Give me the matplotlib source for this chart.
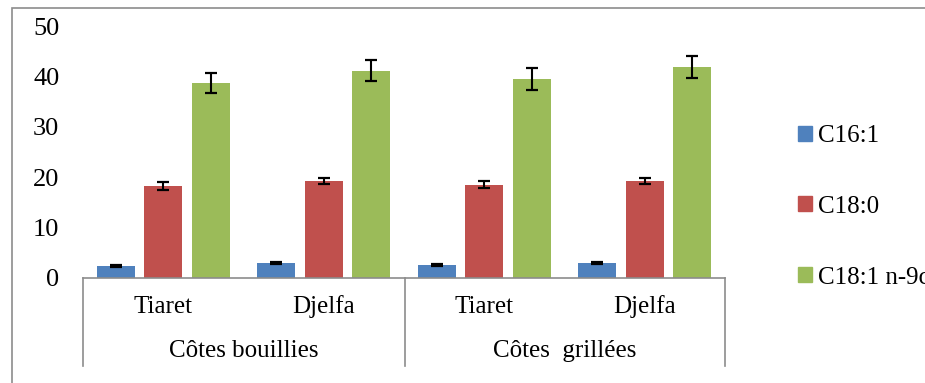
import numpy as np
import matplotlib
matplotlib.use("Agg")
import matplotlib.pyplot as plt
from matplotlib.patches import Rectangle
from matplotlib.lines import Line2D

plt.rcParams['font.family'] = ['serif']
plt.rcParams['font.serif'] = ['Liberation Serif', 'DejaVu Serif']

# donnees
sites = ["Tiaret", "Djelfa", "Tiaret", "Djelfa"]
groups = ["Côtes bouillies", "Côtes  grillées"]
series = ["C16:1", "C18:0", "C18:1 n-9c"]
c16_1 = [2.4, 2.9, 2.5, 3.0]
c18_0 = [18.3, 19.2, 18.5, 19.3]
c18_1 = [38.7, 41.1, 39.5, 41.8]
err_c16_1 = [0.2, 0.2, 0.2, 0.2]
err_c18_0 = [0.8, 0.6, 0.7, 0.6]
err_c18_1 = [2.0, 2.1, 2.1, 2.2]
colors = ["#4F81BD", "#C0504D", "#9BBB59"]

W, H = 925, 383
fig = plt.figure(figsize=(W / 100, H / 100), dpi=100)

# cadre gris autour du graphique
fig.patches.append(Rectangle((12 / W, -0.1), 1.2, (H - 8) / H + 0.1,
                             transform=fig.transFigure, fill=False,
                             edgecolor="#8c8c8c", linewidth=1.2))

ax = fig.add_axes([83 / W, (H - 278) / H, (725 - 83) / W, (278 - 26) / H])

x = np.arange(len(sites))
width = 0.237
step = 0.295
vals = [c16_1, c18_0, c18_1]
errs = [err_c16_1, err_c18_0, err_c18_1]
for i, (v, e, c, name) in enumerate(zip(vals, errs, colors, series)):
    ax.bar(x + (i - 1) * step, v, width, color=c, label=name,
           yerr=e, capsize=4.3, error_kw=dict(ecolor="black", elinewidth=1.5, capthick=1.6))

ax.set_xlim(-0.5, len(sites) - 0.5)
ax.set_ylim(0, 50)
ax.set_yticks([0, 10, 20, 30, 40, 50])
ax.tick_params(axis="y", length=0, labelsize=19, pad=17)
ax.tick_params(axis="x", length=0)
ax.set_xticks([])
for s in ["top", "right", "left"]:
    ax.spines[s].set_visible(False)
ax.spines["bottom"].set_color("#8c8c8c")
ax.spines["bottom"].set_linewidth(1.2)

# axe multi-niveaux
def fy(py):
    return (H - py) / H

for i, s in enumerate(sites):
    xf = (83 + (i + 0.5) * (725 - 83) / 4) / W
    fig.text(xf, fy(307), s, ha="center", va="center", fontsize=18)
for j, g in enumerate(groups):
    xf = (83 + (j + 0.5) * (725 - 83) / 2) / W
    fig.text(xf, fy(351), g, ha="center", va="center", fontsize=18)
for px in [83, 405, 725]:
    fig.lines.append(Line2D([px / W, px / W], [fy(278), fy(366)],
                            transform=fig.transFigure, color="#8c8c8c", linewidth=1.2))

handles = [Rectangle((0, 0), 1, 1, color=c) for c in colors]
fig.legend(handles, series, loc="upper left", bbox_to_anchor=(798 / W, fy(125)),
           frameon=False, fontsize=18, handlelength=0.55, handleheight=0.55,
           handletextpad=0.25, labelspacing=1.95, borderpad=0, borderaxespad=0)

fig.savefig("out.png", dpi=100)
